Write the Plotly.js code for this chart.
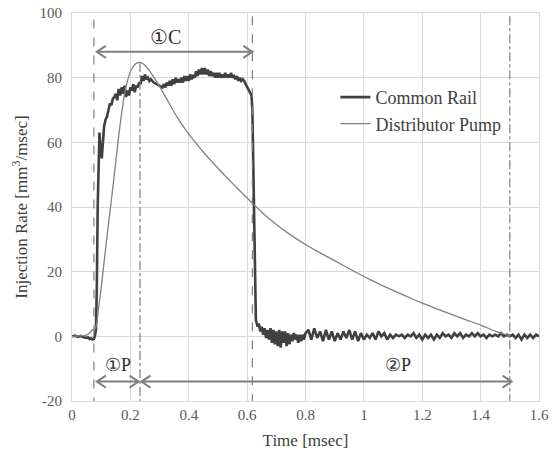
<!DOCTYPE html>
<html>
<head>
<meta charset="utf-8">
<script src="https://cdn.plot.ly/plotly-3.0.1.min.js"></script>
<style>html,body{margin:0;padding:0;background:#fff;}#chart{width:555px;height:452px;}</style>
</head>
<body>
<div id="chart"></div>
<script>
// ---- Common Rail injection rate ----
const timeCR = [0,0.01,0.02,0.03,0.04,0.05,0.055,0.06,0.065,0.07,0.075,0.078,0.082,0.085,0.088,0.091,0.094,0.098,0.102,0.106,0.11,0.115,0.12,0.125,0.13,0.135,0.14,0.145,0.15,0.155,0.16,0.165,0.17,0.175,0.18,0.185,0.19,0.195,0.2,0.205,0.21,0.215,0.22,0.225,0.23,0.235,0.24,0.245,0.25,0.255,0.26,0.265,0.27,0.28,0.29,0.3,0.31,0.315,0.32,0.325,0.33,0.335,0.34,0.345,0.35,0.355,0.36,0.365,0.37,0.375,0.38,0.385,0.39,0.395,0.4,0.405,0.41,0.415,0.42,0.425,0.43,0.435,0.44,0.445,0.45,0.455,0.46,0.465,0.47,0.475,0.48,0.485,0.49,0.495,0.5,0.505,0.51,0.515,0.52,0.525,0.53,0.535,0.54,0.545,0.55,0.555,0.56,0.565,0.57,0.575,0.58,0.585,0.59,0.595,0.6,0.605,0.61,0.615,0.618,0.621,0.624,0.627,0.63,0.633,0.636,0.64,0.645,0.65,0.655,0.66,0.665,0.67,0.675,0.68,0.685,0.69,0.695,0.7,0.705,0.71,0.715,0.72,0.725,0.73,0.735,0.74,0.745,0.75,0.755,0.76,0.765,0.77,0.775,0.78,0.785,0.79,0.795,0.8,0.81,0.82,0.83,0.84,0.85,0.86,0.87,0.88,0.89,0.9,0.91,0.92,0.93,0.94,0.95,0.96,0.97,0.98,0.99,1.0,1.01,1.02,1.03,1.04,1.05,1.06,1.07,1.08,1.09,1.1,1.11,1.12,1.13,1.14,1.15,1.16,1.17,1.18,1.19,1.2,1.21,1.22,1.23,1.24,1.25,1.26,1.27,1.28,1.29,1.3,1.31,1.32,1.33,1.34,1.35,1.36,1.37,1.38,1.39,1.4,1.41,1.42,1.43,1.44,1.45,1.46,1.47,1.48,1.49,1.5,1.51,1.52,1.53,1.54,1.55,1.56,1.57,1.58,1.59,1.6];
const rateCR = [0,0.2,-0.2,0.1,-0.3,-0.5,-0.3,-0.8,-0.6,-1,-0.8,0,2,15,40,60,63,58,55,60,65,67,68,70,72,71.5,73.5,74,75,73,76.5,74.5,77,75,77.5,74,76,74.5,77,76,78,75.5,77.5,77,78.5,78,80.5,79,81,79.5,80,79,79.5,78.5,78,77.5,77,78,77,78.5,77.5,79,77.5,79.5,78,80,78.5,79.5,78.5,80,78.5,80.5,79,80.5,79,81,79.5,80.5,80,82,80.5,82.5,81,83,81,83,81,82.5,80.5,82,80.5,81.5,80,81.5,80,81.5,80,81,80,81.5,80,81,80,81.5,80,80.5,79.5,80.5,79,80,79,79.5,79,78,77,76,75.5,74.5,70,50,28,10,5,4,3,4,1.5,3,0.5,2.5,-0.5,2,-1,2.5,-2,2,-2.5,1.5,-3,2,-3.5,1.5,-2,1.5,-3,1,-2.5,0.5,-1.5,1,-1,0.5,-2,0.5,-1.5,0.5,-1,1,2,-1,2.5,-0.5,1.5,-1.5,2,-1,1.5,-1.5,1,-1,1.5,-0.5,2,-1,1.5,-1.5,1,-1,0.5,-0.5,1,-1,1.5,0,1,-1,0.5,-0.5,0.5,0,0.5,-0.5,0.5,0,1,-0.5,0.5,-1,0.5,-0.5,0.5,-1,0.5,-0.5,1,0,0.5,-0.5,1,0,1,-0.5,0.5,0,1,0,1,0,0.5,-0.5,0.5,0,0.5,0,1,0,0.5,0,0.5,-0.5,0.5,-1,0.5,-0.5,0.5,-0.5,0.5,0];

// ---- Distributor Pump injection rate ----
const timeDP = [0,0.02,0.04,0.05,0.06,0.07,0.075,0.08,0.085,0.09,0.1,0.11,0.12,0.13,0.14,0.15,0.16,0.17,0.18,0.19,0.2,0.21,0.22,0.233,0.245,0.26,0.28,0.3,0.33,0.36,0.39,0.42,0.45,0.5,0.55,0.6,0.65,0.7,0.75,0.8,0.85,0.9,0.95,1.0,1.05,1.1,1.15,1.2,1.25,1.3,1.35,1.4,1.45,1.48,1.5];
const rateDP = [0,0.1,0.2,0.4,1,2,2.2,2.5,4,8,15,23,31,38.5,46,54,62,69,75,79,81.8,83.5,84.4,84.7,84.2,82.8,80.2,77.3,72.5,67.8,63.8,60.3,57,52,47.3,42.8,38.4,34.6,31.3,28.4,25.8,23.4,20.9,18.5,16.3,14.2,12.2,10.3,8.5,6.8,5.1,3.5,1.6,0.7,0.2];

// ---- reference lines (time, top value) ----
const refTimes = [0.075, 0.233, 0.618, 1.5];
const refTops = [98, 84.5, 99, 99];

// ---- duration arrows ----
const spanLabels = ['①C', '①P', '②P'];
const spanStart = [0.085, 0.085, 0.238];
const spanEnd = [0.618, 0.228, 1.506];
const spanLevel = [88, -14, -14];
const labelTime = [0.32, 0.159, 1.118];
const labelLevel = [92.6, -8.9, -8.9];

// ---- axis ticks ----
const yTickVals = [-20, 0, 20, 40, 60, 80, 100];
const yTickText = ['-20', '0', '20', '40', '60', '80', '100'];

const FONT = 'Liberation Serif, DejaVu Serif, Noto Serif, serif';
const refDash = ['dash', 'dashdot', 'dash', 'dashdot'];

const traces = [
  {x: timeCR, y: rateCR, type: 'scatter', mode: 'lines', name: 'Common Rail',
   legendgroup: 'a', line: {color: '#404040', width: 2.6}},
  {x: timeDP, y: rateDP, type: 'scatter', mode: 'lines', name: 'Distributor Pump',
   legendgroup: 'b', line: {color: '#808080', width: 1.3, shape: 'spline', smoothing: 0.5}}
];

const shapes = [];
refTimes.forEach((t, i) => {
  shapes.push({type: 'line', xref: 'x', yref: 'y', x0: t, x1: t, y0: refTops[i], y1: -20,
    line: {color: '#7f7f7f', width: 1.2, dash: refDash[i]}});
});
const arrowColor = '#7f7f7f';
spanLabels.forEach((lab, i) => {
  shapes.push({type: 'line', xref: 'x', yref: 'y', x0: spanStart[i], x1: spanEnd[i],
    y0: spanLevel[i], y1: spanLevel[i], line: {color: arrowColor, width: 2}});
  shapes.push({type: 'path', xref: 'x', yref: 'y', xsizemode: 'pixel', ysizemode: 'pixel',
    xanchor: spanStart[i], yanchor: spanLevel[i], path: 'M 9 6 L 0 0 L 9 -6',
    line: {color: arrowColor, width: 2}});
  shapes.push({type: 'path', xref: 'x', yref: 'y', xsizemode: 'pixel', ysizemode: 'pixel',
    xanchor: spanEnd[i], yanchor: spanLevel[i], path: 'M -9 6 L 0 0 L -9 -6',
    line: {color: arrowColor, width: 2}});
});

const annotations = spanLabels.map((lab, i) => ({
  x: labelTime[i], y: labelLevel[i], xref: 'x', yref: 'y', text: lab, showarrow: false,
  font: {family: FONT, size: i === 0 ? 20 : 18, color: '#303030'}
}));

const layout = {
  width: 555, height: 452,
  margin: {l: 72, r: 16, t: 13, b: 51},
  paper_bgcolor: '#ffffff', plot_bgcolor: '#ffffff',
  font: {family: FONT, size: 15, color: '#595959'},
  xaxis: {
    range: [0, 1.6], dtick: 0.2, tick0: 0,
    showgrid: true, gridcolor: '#d9d9d9', gridwidth: 1,
    zeroline: false, showline: true, mirror: true, linecolor: '#d9d9d9', linewidth: 1,
    ticks: '', tickfont: {family: FONT, size: 15, color: '#595959'},
    title: {text: 'Time [msec]', font: {family: FONT, size: 17, color: '#404040'}, standoff: 12}
  },
  yaxis: {
    range: [-20, 100], tickvals: yTickVals, ticktext: yTickText,
    showgrid: true, gridcolor: '#d9d9d9', gridwidth: 1,
    zeroline: false, showline: true, mirror: true, linecolor: '#d9d9d9', linewidth: 1,
    ticks: '', ticklabelstandoff: 6, tickfont: {family: FONT, size: 15, color: '#595959'},
    title: {text: 'Injection Rate [mm<sup>3</sup>/msec]', font: {family: FONT, size: 17, color: '#404040'}, standoff: 7}
  },
  showlegend: true,
  legend: {
    x: 0.564, y: 0.83, xanchor: 'left', yanchor: 'top',
    bgcolor: 'rgba(255,255,255,0)', borderwidth: 0,
    font: {family: FONT, size: 18, color: '#404040'},
    tracegroupgap: 0
  },
  shapes: shapes,
  annotations: annotations
};

Plotly.newPlot('chart', traces, layout, {displayModeBar: false, staticPlot: true});
</script>
</body>
</html>
